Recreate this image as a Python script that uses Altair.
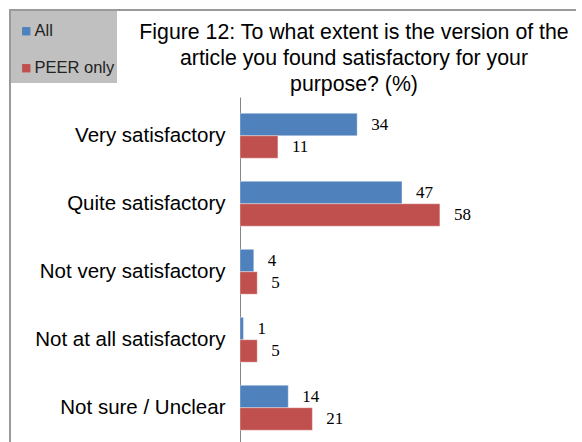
import altair as alt
import pandas as pd

categories = ["Very satisfactory", "Quite satisfactory", "Not very satisfactory",
              "Not at all satisfactory", "Not sure / Unclear"]
all_values = [34, 47, 4, 1, 14]
peer_values = [11, 58, 5, 5, 21]
series = ["All", "PEER only"]
colors = ["#4f81bd", "#c0504d"]
title_lines = ["Figure 12: To what extent is the version of the",
               "article you found satisfactory for your",
               "purpose?  (%)"]

rows = []
for c, a, p in zip(categories, all_values, peer_values):
    rows.append({"category": c, "series": series[0], "value": a})
    rows.append({"category": c, "series": series[1], "value": p})
df = pd.DataFrame(rows)

W, H = 336, 345

y_enc = alt.Y("category:N", sort=categories,
              scale=alt.Scale(paddingInner=0.34, paddingOuter=0.207, align=0.58),
              axis=alt.Axis(title=None, labelFont="Liberation Sans", labelFontSize=20.5,
                            labelColor="#000000", labelPadding=15, ticks=False,
                            domainColor="#868686", domainWidth=1, labelLimit=300))
x_enc = alt.X("value:Q", scale=alt.Scale(domain=[0, 97.5], nice=False, zero=True), axis=None)
yoff = alt.YOffset("series:N", sort=series, scale=alt.Scale(paddingInner=0, paddingOuter=0))

border = alt.Chart(pd.DataFrame({"k": [0]})).mark_rect(
    fillOpacity=0, stroke="#9a9a9a", strokeWidth=2
).encode(x=alt.value(-230), x2=alt.value(700), y=alt.value(-87), y2=alt.value(700))

legend_box = alt.Chart(pd.DataFrame({"k": [0]})).mark_rect(fill="#c0c0c0").encode(
    x=alt.value(-229), x2=alt.value(-123), y=alt.value(-86), y2=alt.value(-14))

bars = alt.Chart(df).mark_bar(stroke="#ffffff", strokeWidth=0.6, strokeOpacity=0.6).encode(
    x=x_enc, y=y_enc, yOffset=yoff,
    color=alt.Color("series:N",
                    scale=alt.Scale(domain=series, range=colors),
                    legend=alt.Legend(title=None, orient="none", legendX=-222, legendY=-74,
                                      direction="vertical", symbolType="square",
                                      symbolSize=70, symbolStrokeWidth=0,
                                      labelFont="Liberation Sans", labelFontSize=16.5,
                                      labelColor="#222222", labelOffset=0,
                                      rowPadding=20, padding=0)))

labels = alt.Chart(df).mark_text(
    align="left", baseline="middle", dx=14, font="Liberation Serif", fontSize=17, color="#000000"
).encode(x=x_enc, y=y_enc, yOffset=yoff, text=alt.Text("value:Q"))

chart = alt.layer(border, legend_box, bars, labels).properties(
    width=W, height=H,
    padding={"left": 240, "top": 97, "right": 0, "bottom": 0},
    autosize=alt.AutoSizeParams(type="none"),
    title=alt.TitleParams(text=title_lines, font="Liberation Sans", fontSize=21.3,
                          fontWeight="normal", color="#000000", anchor="middle",
                          frame="group", dx=-54, offset=-86, lineHeight=26),
).configure_view(strokeWidth=0)

chart.save("out.html", embed_options={"renderer": "svg", "actions": False})
